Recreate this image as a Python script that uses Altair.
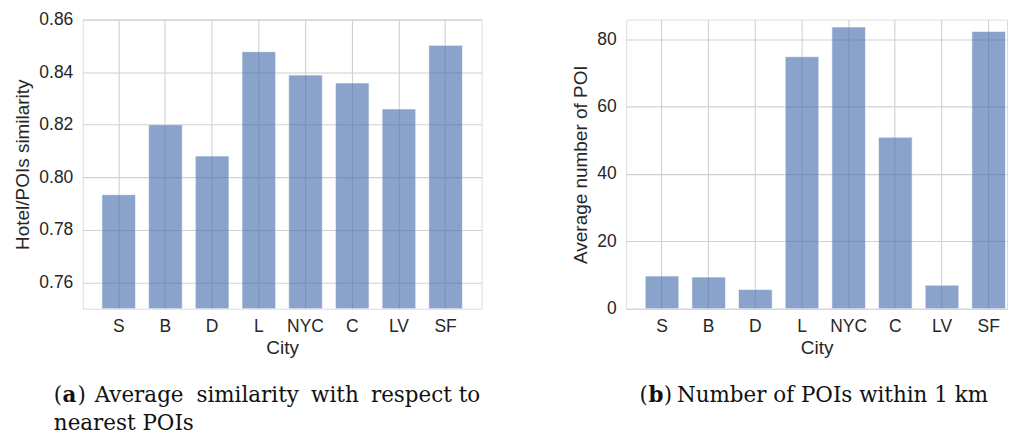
import altair as alt
import pandas as pd

cities = ["S", "B", "D", "L", "NYC", "C", "LV", "SF"]
similarity = [0.7934, 0.8200, 0.8081, 0.8478, 0.8389, 0.8359, 0.8260, 0.8502]
poi_count = [9.7, 9.4, 5.7, 74.8, 83.6, 50.9, 7.0, 82.3]
sim_ticks = [0.76, 0.78, 0.80, 0.82, 0.84, 0.86]
poi_ticks = [0, 20, 40, 60, 80]

df_a = pd.DataFrame({"City": cities, "val": similarity})
df_b = pd.DataFrame({"City": cities, "val": poi_count})

TXT = "#262626"
GRID = "#d0d0d0"
SANS = "Liberation Sans"
SERIF = "DejaVu Serif"
CAP = 21.5
W1, W2, H = 400, 382, 290


def xaxis():
    return alt.Axis(labelAngle=0, ticks=False, tickSize=0, domain=False, grid=True,
                    bandPosition=0.5, labelPadding=9, titlePadding=3,
                    labelFontSize=17.5, titleFontSize=19, labelColor=TXT, titleColor=TXT,
                    labelFont=SANS, titleFont=SANS, titleFontWeight="normal",
                    gridColor=GRID, gridWidth=1.1)


def yaxis(title, values, fmt):
    return alt.Axis(title=title, values=values, format=fmt, ticks=False, tickSize=0,
                    domain=False, grid=True, labelPadding=10, titlePadding=6,
                    labelFontSize=17.5, titleFontSize=19, labelColor=TXT, titleColor=TXT,
                    labelFont=SANS, titleFont=SANS, titleFontWeight="normal",
                    gridColor=GRID, gridWidth=1.1)


one = pd.DataFrame({"k": [0]})


def word(text, x, y, bold=False):
    return alt.Chart(one).mark_text(
        align="left", baseline="alphabetic", font=SERIF, fontSize=CAP,
        fontWeight="bold" if bold else "normal", color="#111111"
    ).encode(x=alt.value(x), y=alt.value(y), text=alt.value(text))


def bars(df, ytitle, domain, values, fmt, xscale):
    return alt.Chart(df).mark_bar(
        color="#4C72B0", opacity=0.65, stroke="white", strokeWidth=1, strokeOpacity=0.6
    ).encode(
        x=alt.X("City:N", sort=cities, scale=xscale, axis=xaxis(), title="City"),
        y=alt.Y("val:Q", scale=alt.Scale(domain=domain, nice=False, zero=False, clamp=True),
                axis=yaxis(ytitle, values, fmt)),
    )


cy1 = 384
cy2 = 412
left = alt.layer(
    bars(df_a, "Hotel/POIs similarity", [0.75, 0.86], sim_ticks, ".2f",
         alt.Scale(paddingInner=0.28, paddingOuter=0.41)),
    word("(", -29, cy1), word("a", -20.3, cy1, True), word(")", -5.2, cy1),
    word("Average", 12, cy1), word("similarity", 114, cy1), word("with", 229, cy1),
    word("respect", 289, cy1), word("to", 377, cy1),
    word("nearest POIs", -29, cy2),
).properties(width=W1, height=H)

right = alt.layer(
    bars(df_b, "Average number of POI", [0, 85.8], poi_ticks, "d",
         alt.Scale(paddingInner=0.28, paddingOuter=0.221, align=0.925)),
    word("(", 13.5, cy1), word("b", 22.3, cy1, True), word(")", 37.8, cy1),
    word("Number of POIs within 1 km", 51, cy1),
).properties(width=W2, height=H)

chart = alt.hconcat(left, right, spacing=145, bounds="flush").properties(
    padding={"left": 5, "top": 1, "right": 0, "bottom": 0}
).configure_view(stroke="#cccccc", strokeWidth=1.3).configure(background="white")

chart.save("out.html", embed_options={"renderer": "svg", "actions": False})
